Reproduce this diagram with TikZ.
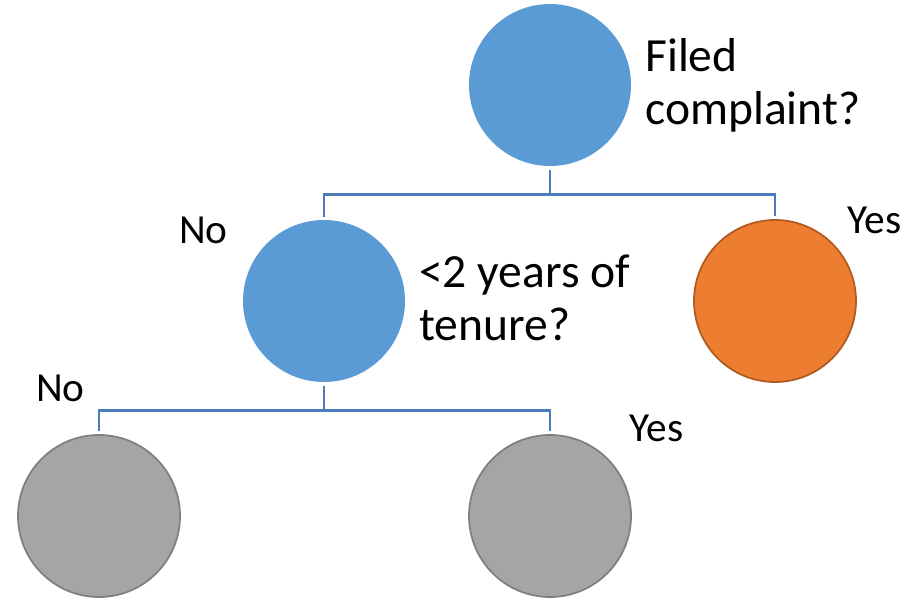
\documentclass[tikz,border=0pt]{standalone}
\usepackage{fontspec}
\setmainfont{Carlito}
\definecolor{blueF}{HTML}{5B9BD5}
\definecolor{orangeF}{HTML}{ED7D31}
\definecolor{orangeD}{HTML}{AE5A21}
\definecolor{grayF}{HTML}{A5A5A5}
\definecolor{grayD}{HTML}{7F7F7F}
\definecolor{connC}{HTML}{4A7EBB}
\begin{document}
\begin{tikzpicture}[x=0.75pt,y=-0.75pt,
  circ/.style={circle,inner sep=0pt,minimum size=121.5pt},
  bluec/.style={circ,fill=blueF},
  orangec/.style={circ,fill=orangeF,draw=orangeD,line width=1.3pt},
  grayc/.style={circ,fill=grayF,draw=grayD,line width=1.3pt},
  conn/.style={draw=connC,line width=2pt,shorten <=3pt,shorten >=2pt},
  lbl/.style={anchor=base west,inner sep=0pt,font=\fontsize{31}{37}\selectfont},
  qlbl/.style={anchor=base west,inner sep=0pt,font=\fontsize{35.7}{42}\selectfont}]
\useasboundingbox (0,0) rectangle (912,599);
\node[bluec] (top) at (550,85) {};
\node[bluec] (mid) at (324,301) {};
\node[orangec] (yes1) at (775,301) {};
\node[grayc] (no2) at (99,516) {};
\node[grayc] (yes2) at (550,516) {};
\draw[conn] (top.south) -- ++(0,28) -| (mid.north);
\draw[conn] (top.south) -- ++(0,28) -| (yes1.north);
\draw[conn] (mid.south) -- ++(0,28) -| (no2.north);
\draw[conn] (mid.south) -- ++(0,28) -| (yes2.north);
\node[qlbl] (q1a) at (645,72) {Filed};
\node[qlbl] (q1b) at (645,124) {complaint?};
\node[qlbl] (q2a) at (419,287) {<2 years of};
\node[qlbl] (q2b) at (419,340) {tenure?};
\node[lbl] (l1) at (179,243) {No};
\node[lbl] (l2) at (847,233) {Yes};
\node[lbl] (l3) at (36,401) {No};
\node[lbl] (l4) at (629,441) {Yes};
\end{tikzpicture}
\end{document}
